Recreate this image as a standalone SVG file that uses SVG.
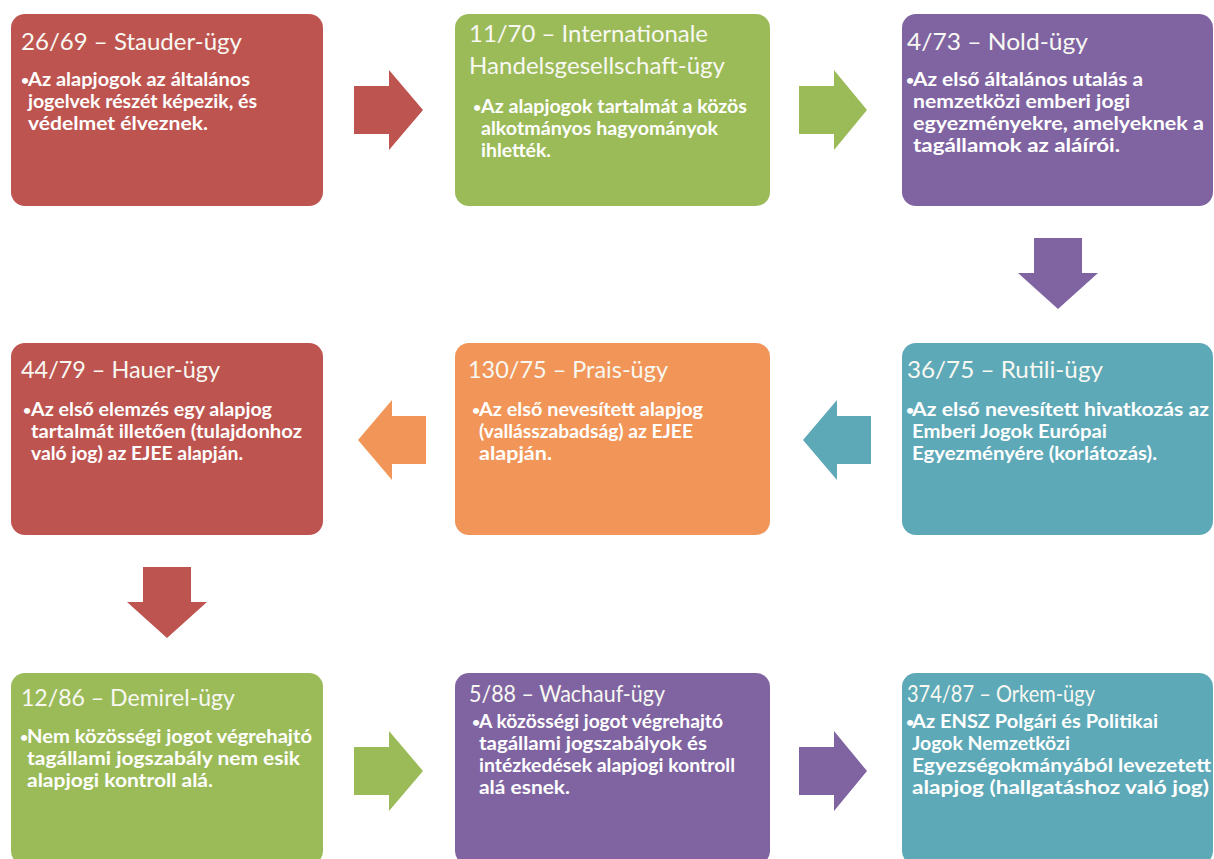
<svg xmlns="http://www.w3.org/2000/svg" width="1214" height="859" viewBox="0 0 1214 859">
<style>
.bg{fill:#FFFFFF}
.red{fill:#BE5450}
.green{fill:#9BBB59}
.purple{fill:#8064A2}
.teal{fill:#5DA9B7}
.orange{fill:#F19658}
.t{font-family:Lato,'Liberation Sans',sans-serif;font-size:23px;fill:#F8F8F2}
.b{font-family:Lato,'Liberation Sans',sans-serif;font-size:19px;font-weight:700;fill:#FFFFFF}
.d{font-family:Lato,'Liberation Sans',sans-serif;font-size:14px;font-weight:700;fill:#FFFFFF}
</style>
<rect class="bg" x="0" y="0" width="1214" height="859"/>
<g id="connectors">
<polygon id="arrow-1-2" class="red" points="354,86 389,86 389,70 423,110 389,150 389,134 354,134"/>
<polygon id="arrow-2-3" class="green" points="799,86 834,86 834,70 867,110 834,150 834,134 799,134"/>
<polygon id="arrow-3-6" class="purple" points="1034,238 1082,238 1082,273 1098,273 1058,309 1018,273 1034,273"/>
<polygon id="arrow-6-5" class="teal" points="871,416 837,416 837,400 803,440 837,480 837,464 871,464"/>
<polygon id="arrow-5-4" class="orange" points="426,416 392,416 392,400 358,440 392,480 392,464 426,464"/>
<polygon id="arrow-4-7" class="red" points="143,567 191,567 191,602 207,602 167,638 127,602 143,602"/>
<polygon id="arrow-7-8" class="green" points="354,747 389,747 389,731 423,771 389,811 389,795 354,795"/>
<polygon id="arrow-8-9" class="purple" points="799,747 834,747 834,731 867,771 834,811 834,795 799,795"/>
</g>
<g id="node-stauder">
<rect class="red" x="11" y="14" width="312" height="192" rx="14"/>
<text class="t" x="21" y="50" textLength="221" lengthAdjust="spacingAndGlyphs">26/69 – Stauder-ügy</text>
<text class="d" x="21" y="85">•</text>
<text class="b" x="28" y="86" textLength="222" lengthAdjust="spacingAndGlyphs">Az alapjogok az általános</text>
<text class="b" x="28" y="108" textLength="229" lengthAdjust="spacingAndGlyphs">jogelvek részét képezik, és</text>
<text class="b" x="28" y="130" textLength="180" lengthAdjust="spacingAndGlyphs">védelmet élveznek.</text>
</g>
<g id="node-internationale">
<rect class="green" x="455" y="14" width="315" height="192" rx="14"/>
<text class="t" x="469" y="42" textLength="239" lengthAdjust="spacingAndGlyphs">11/70 – Internationale</text>
<text class="t" x="469" y="74" textLength="256" lengthAdjust="spacingAndGlyphs">Handelsgesellschaft-ügy</text>
<text class="d" x="473" y="112">•</text>
<text class="b" x="481" y="113" textLength="266" lengthAdjust="spacingAndGlyphs">Az alapjogok tartalmát a közös</text>
<text class="b" x="481" y="135" textLength="237" lengthAdjust="spacingAndGlyphs">alkotmányos hagyományok</text>
<text class="b" x="481" y="157" textLength="70" lengthAdjust="spacingAndGlyphs">ihlették.</text>
</g>
<g id="node-nold">
<rect class="purple" x="902" y="14" width="311" height="192" rx="14"/>
<text class="t" x="907" y="50" textLength="181" lengthAdjust="spacingAndGlyphs">4/73 – Nold-ügy</text>
<text class="d" x="906" y="85">•</text>
<text class="b" x="913" y="86" textLength="230" lengthAdjust="spacingAndGlyphs">Az első általános utalás a</text>
<text class="b" x="913" y="108" textLength="217" lengthAdjust="spacingAndGlyphs">nemzetközi emberi jogi</text>
<text class="b" x="913" y="130" textLength="291" lengthAdjust="spacingAndGlyphs">egyezményekre, amelyeknek a</text>
<text class="b" x="913" y="152" textLength="207" lengthAdjust="spacingAndGlyphs">tagállamok az aláírói.</text>
</g>
<g id="node-hauer">
<rect class="red" x="11" y="343" width="312" height="192" rx="14"/>
<text class="t" x="21" y="378" textLength="199" lengthAdjust="spacingAndGlyphs">44/79 – Hauer-ügy</text>
<text class="d" x="23" y="415">•</text>
<text class="b" x="31" y="416" textLength="241" lengthAdjust="spacingAndGlyphs">Az első elemzés egy alapjog</text>
<text class="b" x="31" y="438" textLength="271" lengthAdjust="spacingAndGlyphs">tartalmát illetően (tulajdonhoz</text>
<text class="b" x="31" y="460" textLength="212" lengthAdjust="spacingAndGlyphs">való jog) az EJEE alapján.</text>
</g>
<g id="node-prais">
<rect class="orange" x="455" y="343" width="315" height="192" rx="14"/>
<text class="t" x="468" y="378" textLength="200" lengthAdjust="spacingAndGlyphs">130/75 – Prais-ügy</text>
<text class="d" x="472" y="415">•</text>
<text class="b" x="479" y="416" textLength="224" lengthAdjust="spacingAndGlyphs">Az első nevesített alapjog</text>
<text class="b" x="479" y="438" textLength="214" lengthAdjust="spacingAndGlyphs">(vallásszabadság) az EJEE</text>
<text class="b" x="479" y="460" textLength="73" lengthAdjust="spacingAndGlyphs">alapján.</text>
</g>
<g id="node-rutili">
<rect class="teal" x="902" y="343" width="311" height="192" rx="14"/>
<text class="t" x="907" y="378" textLength="196" lengthAdjust="spacingAndGlyphs">36/75 – Rutili-ügy</text>
<text class="d" x="906" y="415">•</text>
<text class="b" x="912" y="416" textLength="297" lengthAdjust="spacingAndGlyphs">Az első nevesített hivatkozás az</text>
<text class="b" x="912" y="438" textLength="195" lengthAdjust="spacingAndGlyphs">Emberi Jogok Európai</text>
<text class="b" x="912" y="460" textLength="245" lengthAdjust="spacingAndGlyphs">Egyezményére (korlátozás).</text>
</g>
<g id="node-demirel">
<rect class="green" x="11" y="673" width="312" height="192" rx="14"/>
<text class="t" x="21" y="706" textLength="214" lengthAdjust="spacingAndGlyphs">12/86 – Demirel-ügy</text>
<text class="d" x="20" y="742">•</text>
<text class="b" x="27" y="743" textLength="285" lengthAdjust="spacingAndGlyphs">Nem közösségi jogot végrehajtó</text>
<text class="b" x="27" y="765" textLength="273" lengthAdjust="spacingAndGlyphs">tagállami jogszabály nem esik</text>
<text class="b" x="27" y="787" textLength="186" lengthAdjust="spacingAndGlyphs">alapjogi kontroll alá.</text>
</g>
<g id="node-wachauf">
<rect class="purple" x="455" y="673" width="315" height="192" rx="14"/>
<text class="t" x="469" y="702" textLength="196" lengthAdjust="spacingAndGlyphs">5/88 – Wachauf-ügy</text>
<text class="d" x="472" y="727">•</text>
<text class="b" x="479" y="728" textLength="244" lengthAdjust="spacingAndGlyphs">A közösségi jogot végrehajtó</text>
<text class="b" x="479" y="750" textLength="228" lengthAdjust="spacingAndGlyphs">tagállami jogszabályok és</text>
<text class="b" x="479" y="772" textLength="256" lengthAdjust="spacingAndGlyphs">intézkedések alapjogi kontroll</text>
<text class="b" x="479" y="794" textLength="91" lengthAdjust="spacingAndGlyphs">alá esnek.</text>
</g>
<g id="node-orkem">
<rect class="teal" x="902" y="673" width="311" height="192" rx="14"/>
<text class="t" x="907" y="702" textLength="188" lengthAdjust="spacingAndGlyphs">374/87 – Orkem-ügy</text>
<text class="d" x="906" y="727">•</text>
<text class="b" x="912" y="728" textLength="246" lengthAdjust="spacingAndGlyphs">Az ENSZ Polgári és Politikai</text>
<text class="b" x="912" y="750" textLength="158" lengthAdjust="spacingAndGlyphs">Jogok Nemzetközi</text>
<text class="b" x="912" y="772" textLength="299" lengthAdjust="spacingAndGlyphs">Egyezségokmányából levezetett</text>
<text class="b" x="912" y="794" textLength="297" lengthAdjust="spacingAndGlyphs">alapjog (hallgatáshoz való jog)</text>
</g>
</svg>
